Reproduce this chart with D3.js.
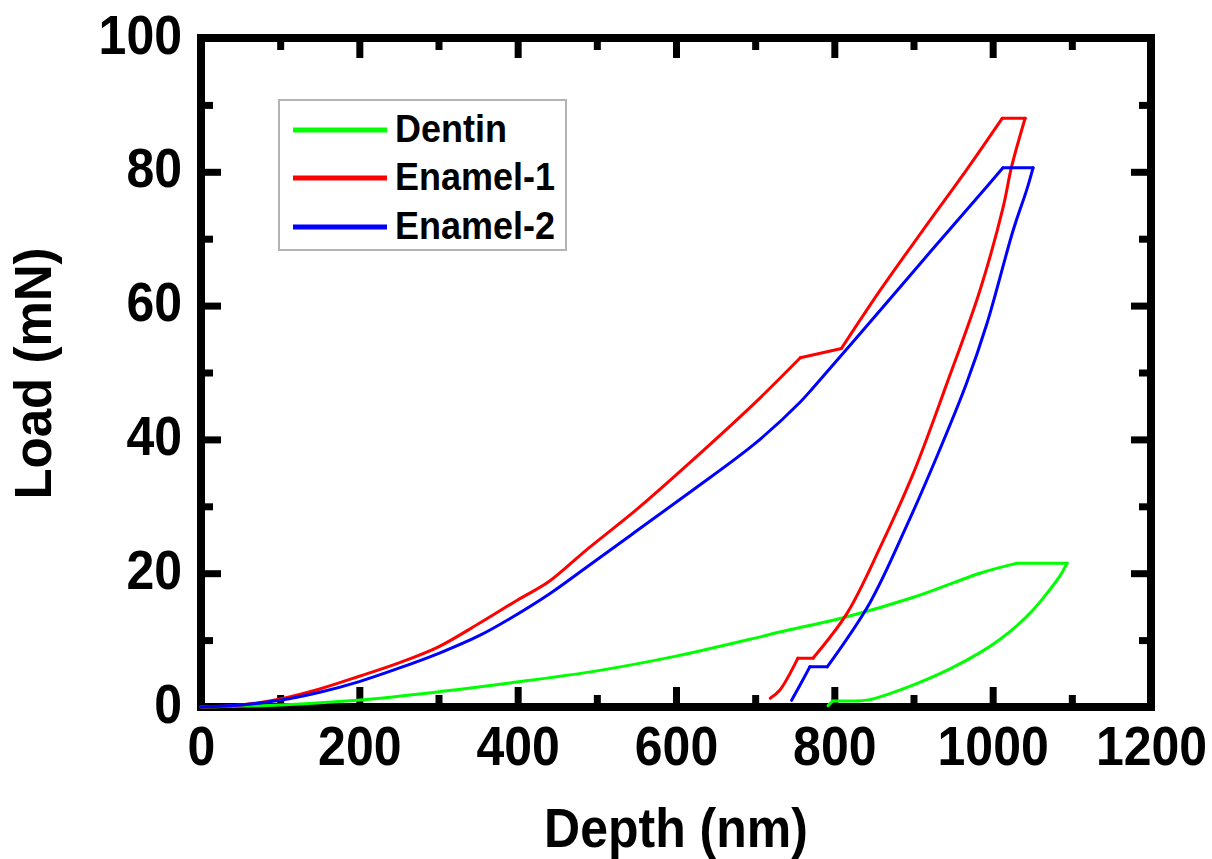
<!DOCTYPE html>
<html>
<head>
<meta charset="utf-8">
<script src="https://cdn.jsdelivr.net/npm/d3@7"></script>
<style>
  html, body { margin: 0; padding: 0; background: #fff; }
  svg { display: block; }
  text { font-family: "Liberation Sans", Arial, sans-serif; font-weight: bold; fill: #000; }
</style>
</head>
<body>
<svg id="chart" width="1212" height="859"></svg>
<script>
// ---- data (depth nm, load mN) ----
const dentinDepth = [0, 100, 197, 302, 390, 500, 600, 700, 731, 816, 900, 984, 1031, 1094,
  1085, 1068, 1051, 1030, 1009, 985, 946, 900, 870, 845, 830, 798, 792];
const dentinLoad = [0, 0.3, 1.0, 2.3, 3.6, 5.4, 7.6, 10.3, 11.2, 13.5, 16.4, 20.0, 21.5, 21.5,
  19.6, 16.9, 14.5, 12.1, 10.1, 8.2, 5.7, 3.3, 2.0, 1.1, 0.9, 0.9, 0.2];
const dentinBreaks = [12, 13, 24, 25];

const enamel1Depth = [0, 50, 100, 150, 200, 250, 300, 350, 400, 440, 487, 550, 621, 700, 757, 809, 858, 912, 967, 1012, 1041,
  1024, 1013, 984, 942, 900, 858, 816, 773, 754, 731, 719];
const enamel1Load = [0, 0.3, 1.2, 2.7, 4.6, 6.6, 9.0, 12.4, 16.0, 18.8, 23.5, 29.5, 36.9, 45.5, 52.2, 53.6, 62.3, 71.3, 80.3, 88.0, 88.0,
  80.8, 74.6, 62.3, 48.3, 35.0, 23.9, 14.0, 7.3, 7.3, 2.5, 1.3];
const enamel1Breaks = [14, 15, 19, 20, 28, 29];

const enamel2Depth = [0, 50, 100, 150, 200, 250, 302, 352, 390, 440, 487, 550, 621, 700, 757, 773, 858, 921, 984, 1013, 1051,
  1043, 1026, 993, 967, 929, 891, 845, 791, 769, 760, 746];
const enamel2Load = [0, 0.3, 1.0, 2.2, 3.8, 5.8, 8.1, 10.7, 13.2, 16.9, 20.9, 26.3, 32.4, 39.4, 45.6, 47.7, 59.3, 68.0, 76.6, 80.6, 80.6,
  77.3, 71.3, 57.4, 48.4, 37.3, 27.0, 15.6, 6.0, 6.0, 4.0, 1.0];
const enamel2Breaks = [19, 20, 28, 29];

const seriesNames = ["Dentin", "Enamel-1", "Enamel-2"];
const seriesColors = ["#00ff00", "#ff0000", "#0000ff"];

const xMajorTicks = [0, 200, 400, 600, 800, 1000, 1200];
const xMinorTicks = [100, 300, 500, 700, 900, 1100];
const yMajorTicks = [0, 20, 40, 60, 80, 100];
const yMinorTicks = [10, 30, 50, 70, 90];

const xTitle = "Depth (nm)";
const yTitle = "Load (mN)";

// ---- layout ----
const L = 201, R = 1151, T = 38, B = 707;
const svg = d3.select("#chart");
const x = d3.scaleLinear().domain([0, 1200]).range([L, R]);
const y = d3.scaleLinear().domain([0, 100]).range([B, T]);

function buildSeries(name, color, depth, load, breaks) {
  const pts = depth.map((d, i) => [d, load[i]]);
  const cuts = [0, ...breaks, pts.length - 1];
  const pieces = [];
  for (let k = 0; k < cuts.length - 1; k++) pieces.push(pts.slice(cuts[k], cuts[k + 1] + 1));
  return { name, color, pieces };
}
const series = [
  buildSeries(seriesNames[0], seriesColors[0], dentinDepth, dentinLoad, dentinBreaks),
  buildSeries(seriesNames[1], seriesColors[1], enamel1Depth, enamel1Load, enamel1Breaks),
  buildSeries(seriesNames[2], seriesColors[2], enamel2Depth, enamel2Load, enamel2Breaks)
];

const line = d3.line().x(d => x(d[0])).y(d => y(d[1])).curve(d3.curveCatmullRom.alpha(0.5));

// axes
function styleAxis(g) {
  g.select(".domain").remove();
  g.selectAll(".tick line").attr("stroke", "#000").attr("stroke-width", 7);
}
svg.append("g").attr("transform", `translate(0,${B})`)
  .call(d3.axisBottom(x).tickValues(xMajorTicks).tickSize(-20).tickFormat(d3.format("d")))
  .call(styleAxis)
  .call(g => g.selectAll(".tick text")
    .attr("y", null).attr("dy", null)
    .attr("font-size", 50).attr("text-anchor", "middle")
    .attr("transform", "translate(0,58) scale(1,1.1)"));
svg.append("g").attr("transform", `translate(0,${B})`)
  .call(d3.axisBottom(x).tickValues(xMinorTicks).tickSize(-12).tickFormat(""))
  .call(styleAxis);
svg.append("g").attr("transform", `translate(0,${T})`)
  .call(d3.axisTop(x).tickValues(xMajorTicks).tickSize(-20).tickFormat(""))
  .call(styleAxis);
svg.append("g").attr("transform", `translate(0,${T})`)
  .call(d3.axisTop(x).tickValues(xMinorTicks).tickSize(-12).tickFormat(""))
  .call(styleAxis);

svg.append("g").attr("transform", `translate(${L},0)`)
  .call(d3.axisLeft(y).tickValues(yMajorTicks).tickSize(-20).tickFormat(d3.format("d")))
  .call(styleAxis)
  .call(g => g.selectAll(".tick text")
    .attr("x", null).attr("dy", null)
    .attr("font-size", 50).attr("text-anchor", "end")
    .attr("transform", "translate(-19,15) scale(1,1.1)"));
svg.append("g").attr("transform", `translate(${L},0)`)
  .call(d3.axisLeft(y).tickValues(yMinorTicks).tickSize(-12).tickFormat(""))
  .call(styleAxis);
svg.append("g").attr("transform", `translate(${R},0)`)
  .call(d3.axisRight(y).tickValues(yMajorTicks).tickSize(-20).tickFormat(""))
  .call(styleAxis);
svg.append("g").attr("transform", `translate(${R},0)`)
  .call(d3.axisRight(y).tickValues(yMinorTicks).tickSize(-12).tickFormat(""))
  .call(styleAxis);

// frame
svg.append("rect")
  .attr("x", L).attr("y", T).attr("width", R - L).attr("height", B - T)
  .attr("fill", "none").attr("stroke", "#000").attr("stroke-width", 8);

// curves (drawn over the frame, as in the reference)
const sg = svg.append("g").selectAll("g").data(series).join("g");
sg.selectAll("path").data(d => d.pieces.map(p => ({ p, color: d.color }))).join("path")
  .attr("d", d => line(d.p))
  .attr("fill", "none")
  .attr("stroke", d => d.color)
  .attr("stroke-width", 3)
  .attr("stroke-linecap", "round")
  .attr("stroke-linejoin", "round");

// axis titles
svg.append("text")
  .attr("transform", `translate(${(L + R) / 2},847) scale(1,1.1)`)
  .attr("text-anchor", "middle").attr("font-size", 50)
  .text(xTitle);
svg.append("text")
  .attr("transform", `translate(51,${(T + B) / 2 + 1}) rotate(-90)`)
  .attr("text-anchor", "middle").attr("font-size", 51)
  .text(yTitle);

// legend
const lg = svg.append("g");
lg.append("rect").attr("x", 279).attr("y", 100).attr("width", 287).attr("height", 150)
  .attr("fill", "#fff").attr("stroke", "#b3b3b3").attr("stroke-width", 2);
const rowY = [130, 178, 227];
const items = lg.selectAll("g.item").data(series).join("g").attr("class", "item");
items.append("line")
  .attr("x1", 293).attr("x2", 387)
  .attr("y1", (d, i) => rowY[i]).attr("y2", (d, i) => rowY[i])
  .attr("stroke", d => d.color).attr("stroke-width", 5);
items.append("text")
  .attr("transform", (d, i) => `translate(395,${rowY[i] + 12}) scale(1,1.1)`)
  .attr("font-size", 36)
  .text(d => d.name);
</script>
</body>
</html>
